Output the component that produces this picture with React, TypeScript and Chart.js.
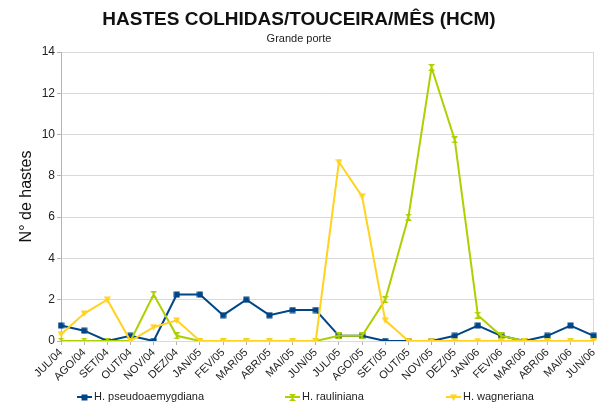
import React, { useEffect, useRef } from "react";
import { Chart, registerables } from "chart.js";

Chart.register(...registerables);

const categories = [
  "JUL/04", "AGO/04", "SET/04", "OUT/04", "NOV/04", "DEZ/04",
  "JAN/05", "FEV/05", "MAR/05", "ABR/05", "MAI/05", "JUN/05",
  "JUL/05", "AGO/05", "SET/05", "OUT/05", "NOV/05", "DEZ/05",
  "JAN/06", "FEV/06", "MAR/06", "ABR/06", "MAI/06", "JUN/06",
];
const pseudoaemygdiana = [0.75, 0.5, 0, 0.25, 0, 2.25, 2.25, 1.25, 2, 1.25, 1.5, 1.5, 0.25, 0.25, 0, 0, 0, 0.25, 0.75, 0.25, 0, 0.25, 0.75, 0.25];
const rauliniana = [0, 0, 0, 0, 2.25, 0.25, 0, 0, 0, 0, 0, 0, 0.25, 0.25, 2, 6, 13.25, 9.75, 1.25, 0.25, 0, 0, 0, 0];
const wagneriana = [0.33, 1.33, 2, 0, 0.67, 1, 0, 0, 0, 0, 0, 0, 8.67, 7, 1, 0, 0, 0, 0, 0, 0, 0, 0, 0];
const seriesNames = ["H. pseudoaemygdiana", "H. rauliniana", "H. wagneriana"];
const yTicks = [0, 2, 4, 6, 8, 10, 12, 14];

const COLORS = ["#004586", "#aecf00", "#ffd320"];
const FONT = "'Liberation Sans', Arial, sans-serif";

function makeMarker(kind: string, color: string): HTMLCanvasElement {
  const s = 7;
  const c = document.createElement("canvas");
  c.width = s;
  c.height = s;
  const ctx = c.getContext("2d")!;
  ctx.fillStyle = color;
  ctx.beginPath();
  if (kind === "square") {
    ctx.rect(0.5, 0.5, s - 1, s - 1);
  } else if (kind === "hourglass") {
    ctx.moveTo(0, 0);
    ctx.lineTo(s, 0);
    ctx.lineTo(s / 2, s / 2);
    ctx.lineTo(s, s);
    ctx.lineTo(0, s);
    ctx.lineTo(s / 2, s / 2);
    ctx.closePath();
  } else {
    ctx.moveTo(0, 0.5);
    ctx.lineTo(s, 0.5);
    ctx.lineTo(s / 2, s);
    ctx.closePath();
  }
  ctx.fill();
  return c;
}

const legendLayout = { y: 397, items: [77, 285, 446], lineLen: 15, gap: 2 };

const sparseLegend = {
  id: "sparseLegend",
  afterDraw(chart: any) {
    const ctx = chart.ctx;
    ctx.save();
    ctx.font = `11px ${FONT}`;
    ctx.textBaseline = "middle";
    ctx.textAlign = "left";
    chart.data.datasets.forEach((ds: any, i: number) => {
      const x = legendLayout.items[i];
      const y = legendLayout.y;
      ctx.strokeStyle = ds.borderColor;
      ctx.lineWidth = 2;
      ctx.beginPath();
      ctx.moveTo(x, y);
      ctx.lineTo(x + legendLayout.lineLen, y);
      ctx.stroke();
      const img = ds.pointStyle as HTMLCanvasElement;
      ctx.drawImage(img, Math.round(x + legendLayout.lineLen / 2 - img.width / 2), Math.round(y - img.height / 2));
      ctx.fillStyle = "#222";
      ctx.fillText(ds.label, x + legendLayout.lineLen + legendLayout.gap, y);
    });
    ctx.restore();
  },
};

export default function App() {
  const ref = useRef<HTMLCanvasElement>(null);
  useEffect(() => {
    document.body.style.margin = "0";
    const markers = [
      makeMarker("square", COLORS[0]),
      makeMarker("hourglass", COLORS[1]),
      makeMarker("down", COLORS[2]),
    ];
    const values = [pseudoaemygdiana, rauliniana, wagneriana];
    const chart = new Chart(ref.current!, {
      type: "line",
      data: {
        labels: categories,
        datasets: values.map((v, i) => ({
          label: seriesNames[i],
          data: v,
          borderColor: COLORS[i],
          backgroundColor: COLORS[i],
          borderWidth: 2,
          pointStyle: markers[i] as any,
          pointRadius: 3,
          tension: 0,
          order: 2 - i,
        })),
      },
      options: {
        animation: false,
        responsive: false,
        devicePixelRatio: 1,
        layout: { padding: { left: 0, right: 6, top: 0, bottom: 0 } },
        plugins: {
          legend: { display: false },
          tooltip: { enabled: false },
          title: {
            display: true,
            text: "HASTES COLHIDAS/TOUCEIRA/MÊS (HCM)",
            color: "#111",
            font: { family: FONT, size: 19, weight: "bold" },
            padding: { top: 8, bottom: 2 },
          },
          subtitle: {
            display: true,
            text: "Grande porte",
            color: "#222",
            font: { family: FONT, size: 11 },
            padding: { top: 0, bottom: 6 },
          },
        },
        scales: {
          x: {
            type: "category",
            offset: false,
            grid: {
              color: (c: any) => (c.index === categories.length - 1 ? "#d9d9d9" : "rgba(0,0,0,0)"),
              tickColor: "#b3b3b3",
              tickLength: 4,
            },
            border: { display: false },
            ticks: {
              autoSkip: false,
              minRotation: 45,
              maxRotation: 45,
              color: "#222",
              padding: 1,
              font: { family: FONT, size: 11 },
            },
            afterFit: (s: any) => {
              s.height = 67;
            },
          },
          y: {
            min: 0,
            max: 14,
            afterBuildTicks: (s: any) => {
              s.ticks = yTicks.map((v) => ({ value: v }));
            },
            grid: { color: "#d9d9d9", tickColor: "#b3b3b3", tickLength: 4 },
            border: { color: "#b3b3b3" },
            ticks: {
              color: "#222",
              padding: 2,
              font: { family: FONT, size: 12 },
            },
            title: {
              display: true,
              text: "N° de hastes",
              color: "#111",
              font: { family: FONT, size: 16 },
              padding: { top: 17, bottom: 0 },
            },
            afterFit: (s: any) => {
              s.width = 61;
            },
          },
        },
      },
      plugins: [sparseLegend],
    });
    return () => chart.destroy();
  }, []);
  return <canvas ref={ref} width={604} height={408} style={{ display: "block" }} />;
}
